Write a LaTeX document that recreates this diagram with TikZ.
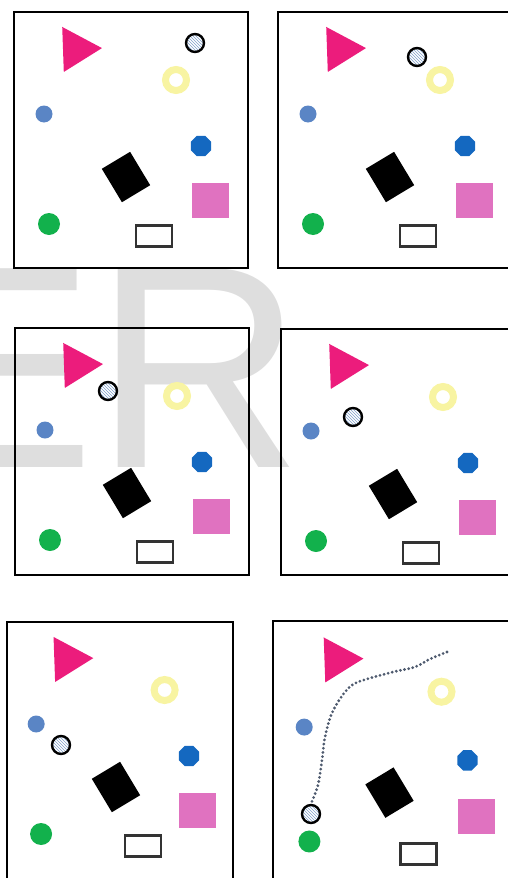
\documentclass[tikz,border=0pt]{standalone}
\usepackage{fontspec}
\usepackage{tikz}
\usetikzlibrary{shapes.geometric,patterns}
\newfontfamily\markfont{Liberation Sans}
\definecolor{sceneMagenta}{HTML}{EC1C7C}
\definecolor{sceneYellow}{HTML}{F8F4A2}
\definecolor{sceneSteel}{HTML}{5A85C5}
\definecolor{sceneBlue}{HTML}{1468C0}
\definecolor{sceneOrchid}{HTML}{E072C0}
\definecolor{sceneGreen}{HTML}{12B14C}
\definecolor{sceneStripe}{HTML}{7F9FCB}
\definecolor{sceneTrail}{HTML}{4E5A6E}
\definecolor{markGray}{HTML}{DEDEDE}

\begin{document}
\begin{tikzpicture}[
    x=1pt, y=-1pt,
    frame/.style={draw=black, line width=2.2pt},
    tri/.style={regular polygon, regular polygon sides=3, shape border rotate=-88, fill=sceneMagenta, minimum size=52pt, inner sep=0pt},
    ring/.style={circle, draw=sceneYellow, line width=7pt, fill=white, minimum size=21pt, inner sep=0pt},
    ball/.style={circle, draw=black, line width=2.4pt, minimum size=18pt, inner sep=0pt,
        preaction={fill=white}, pattern=north west lines, pattern color=sceneStripe},
    dot/.style={circle, fill=sceneSteel, minimum size=17pt, inner sep=0pt},
    octa/.style={regular polygon, regular polygon sides=8, fill=sceneBlue, minimum size=22pt, inner sep=0pt},
    block/.style={rectangle, fill=black, rotate=31, minimum width=33pt, minimum height=39pt, inner sep=0pt},
    tile/.style={rectangle, fill=sceneOrchid, minimum width=37pt, minimum height=35pt, inner sep=0pt},
    disc/.style={circle, fill=sceneGreen, minimum size=22pt, inner sep=0pt},
    slot/.style={rectangle, draw=black!80, line width=2.4pt, fill=white, minimum width=36pt, minimum height=21pt, inner sep=0pt},
    trail/.style={draw=sceneTrail, line width=3.1pt, line cap=round, dash pattern=on 0pt off 4.2pt}
]
\useasboundingbox (0,0) rectangle (508,878);

% watermark behind the panels
\node[anchor=base west, inner sep=0pt, text=markGray, font=\markfont\fontsize{289}{289}\selectfont] (mark) at (-98,467) {ER};

% six snapshots of the same scene, the striped ball moves
\foreach \n/\ox/\oy/\sx/\sy/\w/\h/\bx/\by in {1/14/12/1/1/234/256/181/31, 2/278/12/1/1/232/256/139/45,
    3/15/328/1/1/234/247/93/63, 4/281/329/1/1/230/246/72/88,
    5/7/622/0.973/1/226/262/54/123, 6/273/621/1.04/1.04/240/262/38/193}{
  \begin{scope}[shift={(\ox,\oy)}]
    \draw[frame] (0,0) rectangle (\w,\h);
    \begin{scope}[xscale=\sx, yscale=\sy]
      \node[tri] (tri\n) at (62,37) {};
      \node[ring] (ring\n) at (162,68) {};
      \node[dot] (dot\n) at (30,102) {};
      \node[octa] (octa\n) at (187,134) {};
      \node[block] (block\n) at (112,165) {};
      \node[tile] (tile\n) at (196,188) {};
      \node[disc] (disc\n) at (35,212) {};
      \node[slot] (slot\n) at (140,224) {};
    \end{scope}
    \node[ball] (ball\n) at (\bx,\by) {};
  \end{scope}
}

% path of the ball in the last snapshot
\coordinate (trailstart) at (447,652);
\draw[trail] plot[smooth, tension=0.55] coordinates {(trailstart) (430,659) (415,667) (393,672) (358,682)
    (345,692) (332,713) (325,737) (322,760) (318,785) (ball6.north)};

\end{tikzpicture}
\end{document}
